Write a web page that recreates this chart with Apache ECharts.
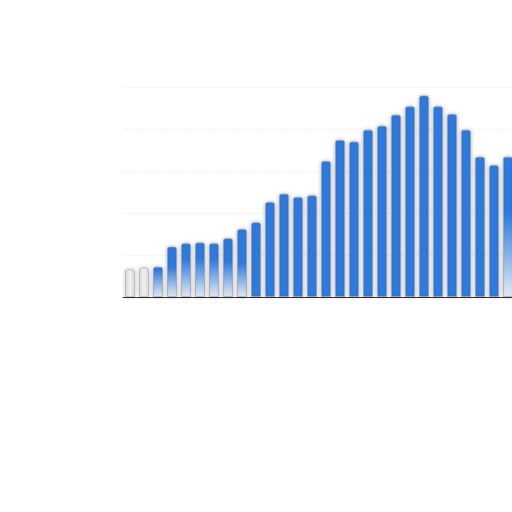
<!DOCTYPE html>
<html>
<head>
<meta charset="utf-8">
<script src="https://cdn.jsdelivr.net/npm/echarts@6/dist/echarts.min.js"></script>
<style>
  html, body { margin: 0; padding: 0; background: #fff; }
  #chart { width: 512px; height: 512px; }
</style>
</head>
<body>
<div id="chart"></div>
<script>
const categories = ['1', '2', '3', '4', '5', '6', '7', '8', '9', '10',
    '11', '12', '13', '14', '15', '16', '17', '18', '19', '20',
    '21', '22', '23', '24', '25', '26', '27', '28', '29'];
const values = [33, 35, 36, 60, 64, 65, 64, 70, 81, 89,
    113, 123, 119, 121, 162, 187, 185, 199, 204, 217,
    227, 240, 227, 218, 199, 167, 157, 167, 160];
// how washed out each bar looks in the reference (0 = solid blue)
const fade = [1, 1, 0.9, 0.6, 0.7, 0.7, 0.7, 0.6, 0.5, 0, 0, 0, 0, 0, 0, 0, 0, 0, 0, 0,
    0, 0, 0, 0, 0, 0, 0, 0.6, 1];

const blue = '#2e7be0';

const barColor = (f) => {
    if (f === 0) return blue;
    if (f === 1) {
        return new echarts.graphic.LinearGradient(0, 0, 1, 0, [
            { offset: 0, color: '#d8d8d8' },
            { offset: 0.5, color: '#ffffff' },
            { offset: 1, color: '#d8d8d8' }
        ]);
    }
    return new echarts.graphic.LinearGradient(0, 0, 0, 1, [
        { offset: 0, color: blue },
        { offset: 1 - f, color: blue },
        { offset: 1, color: '#e8eef8' }
    ]);
};

const chart = echarts.init(document.getElementById('chart'), null, { renderer: 'canvas' });

chart.setOption({
    animation: false,
    // plot runs past the right edge of the canvas, like the reference
    grid: { left: 123, width: 406, top: 87, height: 210, outerBoundsMode: 'none' },
    xAxis: {
        type: 'category',
        data: categories,
        axisLine: { lineStyle: { color: '#333', width: 1 } },
        axisTick: { show: false },
        axisLabel: { show: false }
    },
    yAxis: {
        type: 'value',
        min: 0,
        max: 250,
        interval: 50,
        axisLine: { show: false },
        axisTick: { show: false },
        axisLabel: { show: false },
        splitLine: { lineStyle: { color: '#f3f3f3', type: 'dashed' } }
    },
    series: [{
        type: 'bar',
        barWidth: 10,
        data: values.map((v, i) => ({
            value: v,
            itemStyle: {
                color: barColor(fade[i]),
                opacity: fade[i] === 1 ? 0.8 : 1
            }
        })),
        itemStyle: {
            borderRadius: [2, 2, 0, 0],
            borderColor: 'rgba(160,160,160,0.6)',
            borderWidth: 1,
            shadowBlur: 4,
            shadowColor: 'rgba(0,0,0,0.3)'
        }
    }]
});
</script>
</body>
</html>
